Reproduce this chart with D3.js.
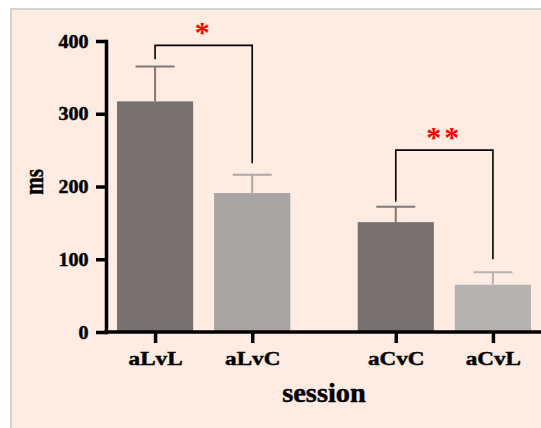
<!DOCTYPE html>
<html>
<head>
<meta charset="utf-8">
<script src="https://cdn.jsdelivr.net/npm/d3@7"></script>
<style>
  body { margin: 0; background: #fff; }
  svg text { font-family: "Liberation Serif", "Times New Roman", serif; font-weight: bold; }
  svg text.ink { stroke: #000; stroke-width: 0.45px; }
</style>
</head>
<body>
<div class="chart_wrapper"></div>
<script>
// data
const groups = [["aLvL", "aLvC"], ["aCvC", "aCvL"]]
const means = [317, 191, 151, 65]
const errUp = [365, 216, 172, 82]
const barColors = ["#767170", "#a7a4a3", "#767170", "#b5b2b1"]
const errColors = ["#7e7a79", "#aaa7a6", "#7e7a79", "#b6b3b2"]
const yTicks = [0, 100, 200, 300, 400]
// significance brackets: top level and leg ends, in ms
const brackets = [
    { from: "aLvL", to: "aLvC", top: 394, leftEnd: 375, rightEnd: 232, label: "*" },
    { from: "aCvC", to: "aCvL", top: 250, leftEnd: 179, rightEnd: 100, label: "**" }
]

const width = 541
const height = 428
const categories = groups.flat()

const svg = d3.select('.chart_wrapper')
    .append('svg')
    .attr('width', width)
    .attr('height', height)

// panel
svg.append("rect")
    .attr("x", 11).attr("y", 9)
    .attr("width", width + 10).attr("height", height + 10)
    .attr("fill", "#feebe2")
    .attr("stroke", "#d2d2d2")
    .attr("stroke-width", 2)

const y = d3.scaleLinear().domain([0, 400]).range([332, 41])

const xGroup = d3.scaleBand().domain(d3.range(groups.length)).range([117, 531]).paddingInner(0.28)
const xInner = d3.scaleBand().domain([0, 1]).range([0, xGroup.bandwidth()]).paddingInner(0.216)
const barX = (cat) => {
    const gi = groups.findIndex(g => g.includes(cat))
    return xGroup(gi) + xInner(groups[gi].indexOf(cat))
}
const bw = xInner.bandwidth()
const cx = (cat) => barX(cat) + bw / 2

const rows = categories.map((c, i) => ({ cat: c, mean: means[i], up: errUp[i], color: barColors[i], ecolor: errColors[i] }))

// bars
svg.append("g")
    .selectAll("rect")
    .data(rows)
    .join("rect")
    .attr("x", d => barX(d.cat))
    .attr("y", d => y(d.mean))
    .attr("width", bw)
    .attr("height", d => y(0) - y(d.mean))
    .attr("fill", d => d.color)

// error bars (upper only)
const err = svg.append("g").selectAll("g").data(rows).join("g")
err.append("line")
    .attr("x1", d => cx(d.cat)).attr("x2", d => cx(d.cat))
    .attr("y1", d => y(d.mean)).attr("y2", d => y(d.up))
    .attr("stroke", d => d.ecolor).attr("stroke-width", 2)
err.append("line")
    .attr("x1", d => cx(d.cat) - 19.5).attr("x2", d => cx(d.cat) + 19.5)
    .attr("y1", d => y(d.up)).attr("y2", d => y(d.up))
    .attr("stroke", d => d.ecolor).attr("stroke-width", 2)

// y axis
const yAxis = svg.append("g")
    .attr("transform", "translate(106,0)")
    .call(d3.axisLeft(y).tickValues(yTicks).tickSize(10).tickSizeOuter(0))
yAxis.select(".domain").attr("stroke", "#000").attr("stroke-width", 3.5).attr("stroke-linecap", "square")
yAxis.selectAll(".tick line").attr("stroke", "#000").attr("stroke-width", 3.5)
yAxis.selectAll(".tick text")
    .attr("class", "ink")
    .attr("x", null).attr("dy", null)
    .attr("transform", "translate(-17.5,6.2) scale(1.11,1)")
    .attr("fill", "#000")
    .style("font-size", "18px")

// x axis
const xPos = d3.scaleOrdinal().domain(categories).range(categories.map(cx))
const xAxis = svg.append("g")
    .attr("transform", `translate(0,${y(0)})`)
    .call(d3.axisBottom(xPos).tickSize(11).tickSizeOuter(0))
xAxis.select(".domain").remove()
xAxis.append("line")
    .attr("x1", 104.25).attr("x2", width)
    .attr("stroke", "#000").attr("stroke-width", 3.5)
xAxis.selectAll(".tick line").attr("stroke", "#000").attr("stroke-width", 3.5)
xAxis.selectAll(".tick text")
    .attr("class", "ink")
    .attr("y", null).attr("dy", null)
    .attr("transform", "translate(0,33) scale(1.25,1)")
    .attr("fill", "#000")
    .style("font-size", "18.5px")

// axis titles
svg.append("text")
    .attr("class", "ink")
    .attr("transform", `translate(${(xGroup.range()[0] + xGroup.range()[1]) / 2},402) scale(1.05,1)`)
    .attr("text-anchor", "middle")
    .style("font-size", "27px")
    .text("session")

svg.append("text")
    .attr("class", "ink")
    .attr("transform", "translate(43,182) rotate(-90) scale(0.78,1)")
    .attr("text-anchor", "middle")
    .style("font-size", "27px")
    .text("ms")

// significance brackets
const br = svg.append("g").selectAll("g").data(brackets).join("g")
br.append("path")
    .attr("d", d => `M${cx(d.from)},${y(d.leftEnd)}V${y(d.top)}H${cx(d.to)}V${y(d.rightEnd)}`)
    .attr("fill", "none")
    .attr("stroke", "#000")
    .attr("stroke-width", 1.6)
br.append("text")
    .attr("x", d => (cx(d.from) + cx(d.to)) / 2)
    .attr("y", d => y(d.top) - 3)
    .attr("text-anchor", "middle")
    .attr("fill", "#ff0000")
    .style("font-size", "30px")
    .style("letter-spacing", "3px")
    .text(d => d.label)
</script>
</body>
</html>
